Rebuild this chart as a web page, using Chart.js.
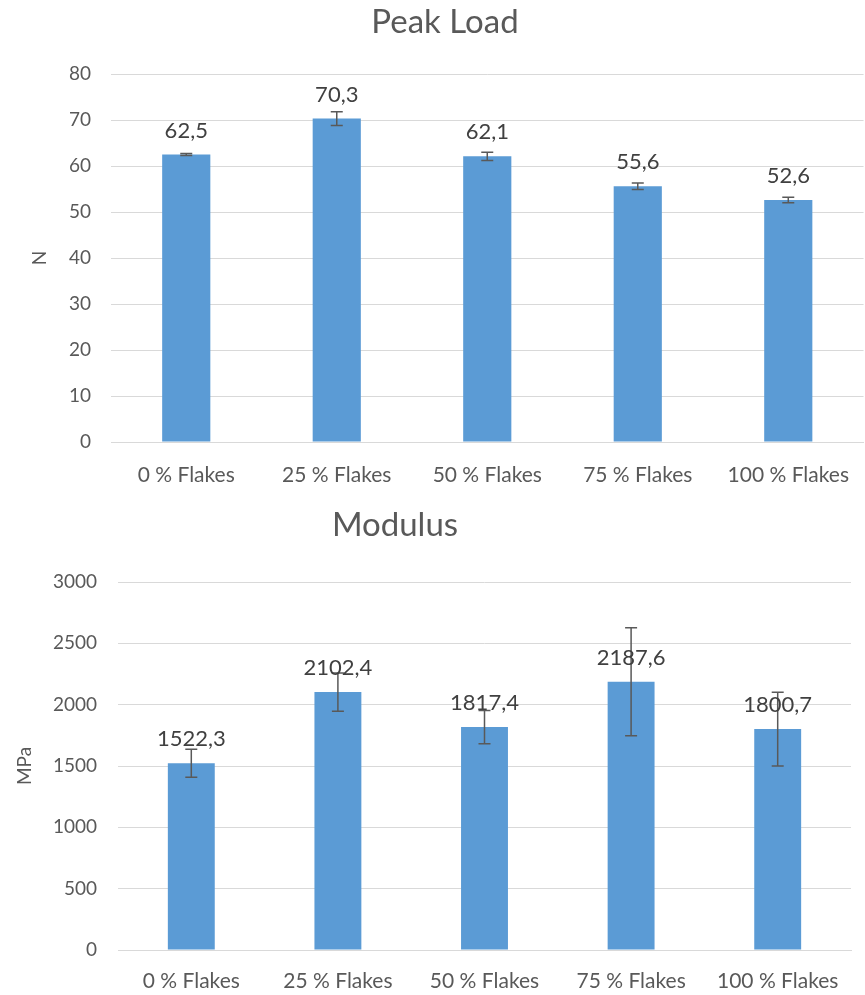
<!DOCTYPE html>
<html>
<head>
<meta charset="utf-8">
<script src="https://cdn.jsdelivr.net/npm/chart.js@4.4.1/dist/chart.umd.min.js"></script>
<style>
  html, body { margin: 0; padding: 0; background: #fff; overflow: hidden; }
  canvas { display: block; }
</style>
</head>
<body>
<canvas id="c1" width="870" height="500"></canvas>
<canvas id="c2" width="865" height="495"></canvas>
<script>
const categories = ['0 % Flakes', '25 % Flakes', '50 % Flakes', '75 % Flakes', '100 % Flakes'];
const peakLoad = [62.5, 70.3, 62.1, 55.6, 52.6];
const peakLoadErr = [0.2, 1.5, 0.9, 0.7, 0.6];
const modulus = [1522.3, 2102.4, 1817.4, 2187.6, 1800.7];
const modulusErr = [115, 156, 136, 440, 300];

const FONT = 'Lato, "Open Sans", sans-serif';
const BAR = '#5b9bd5';
const TXT = '#595959';

const fmt = v => v.toFixed(1).replace('.', ',');

const errorBarPlugin = {
  id: 'errorBars',
  afterDatasetsDraw(chart, args, opts) {
    const ctx = chart.ctx;
    const meta = chart.getDatasetMeta(0);
    const y = chart.scales.y;
    const vals = chart.data.datasets[0].data;
    const errs = opts.errors || [];
    ctx.save();
    ctx.strokeStyle = '#595959';
    ctx.lineWidth = 1.5;
    meta.data.forEach((bar, i) => {
      const e = errs[i];
      if (e == null) return;
      const yt = y.getPixelForValue(vals[i] + e);
      const yb = y.getPixelForValue(vals[i] - e);
      const x = bar.x;
      ctx.beginPath();
      ctx.moveTo(x, yt); ctx.lineTo(x, yb);
      ctx.moveTo(x - 6, yt); ctx.lineTo(x + 6, yt);
      ctx.moveTo(x - 6, yb); ctx.lineTo(x + 6, yb);
      ctx.stroke();
    });
    ctx.fillStyle = '#404040';
    ctx.font = '22px ' + FONT;
    ctx.textAlign = 'center';
    ctx.textBaseline = 'middle';
    meta.data.forEach((bar, i) => {
      ctx.fillText(fmt(vals[i]), bar.x, bar.y - 24);
    });
    ctx.restore();
  }
};

const titlePlugin = {
  id: 'posTitle',
  afterDraw(chart, args, opts) {
    const ctx = chart.ctx;
    ctx.save();
    ctx.fillStyle = TXT;
    ctx.font = '33px ' + FONT;
    ctx.textAlign = 'center';
    ctx.textBaseline = 'middle';
    ctx.fillText(opts.text, opts.x, opts.y);
    ctx.restore();
  }
};

function makeChart(id, values, errs, yMax, yStep, yTitle, cfg) {
  return new Chart(document.getElementById(id), {
    type: 'bar',
    data: {
      labels: categories,
      datasets: [{
        data: values,
        backgroundColor: BAR,
        borderWidth: 0,
        barPercentage: 0.32,
        categoryPercentage: 1.0
      }]
    },
    options: {
      responsive: false,
      animation: false,
      layout: { padding: { top: cfg.top, right: cfg.right, left: 0, bottom: 0 } },
      plugins: {
        legend: { display: false },
        tooltip: { enabled: false },
        title: { display: false },
        errorBars: { errors: errs },
        posTitle: cfg.title
      },
      scales: {
        x: {
          grid: { display: false, drawTicks: false },
          border: { display: true, color: '#d9d9d9', width: 1 },
          ticks: { color: TXT, font: { family: FONT, size: 21 }, padding: cfg.xPad, maxRotation: 0 },
          afterFit(s) { s.height = cfg.xh; }
        },
        y: {
          min: 0, max: yMax,
          grid: { color: '#d9d9d9', lineWidth: 1, drawTicks: false },
          border: { display: false },
          ticks: {
            stepSize: yStep, color: TXT, font: { family: FONT, size: 19 }, padding: cfg.tickPad,
            callback: v => String(v)
          },
          title: { display: true, text: yTitle, color: TXT, font: { family: FONT, size: 19 }, padding: { top: cfg.titlePad, bottom: 0 } },
          afterFit(s) { s.width = cfg.yw; }
        }
      }
    },
    plugins: [errorBarPlugin, titlePlugin]
  });
}

makeChart('c1', peakLoad, peakLoadErr, 80, 10, 'N', {
  top: 74, right: 0, xh: 58, yw: 111, tickPad: 20, titlePad: 28, xPad: 21,
  title: { text: 'Peak Load', x: 445, y: 22 }
});
makeChart('c2', modulus, modulusErr, 3000, 500, 'MPa', {
  top: 82, right: 14, xh: 45, yw: 118, tickPad: 21, titlePad: 13, xPad: 19,
  title: { text: 'Modulus', x: 395, y: 25 }
});
</script>
</body>
</html>
